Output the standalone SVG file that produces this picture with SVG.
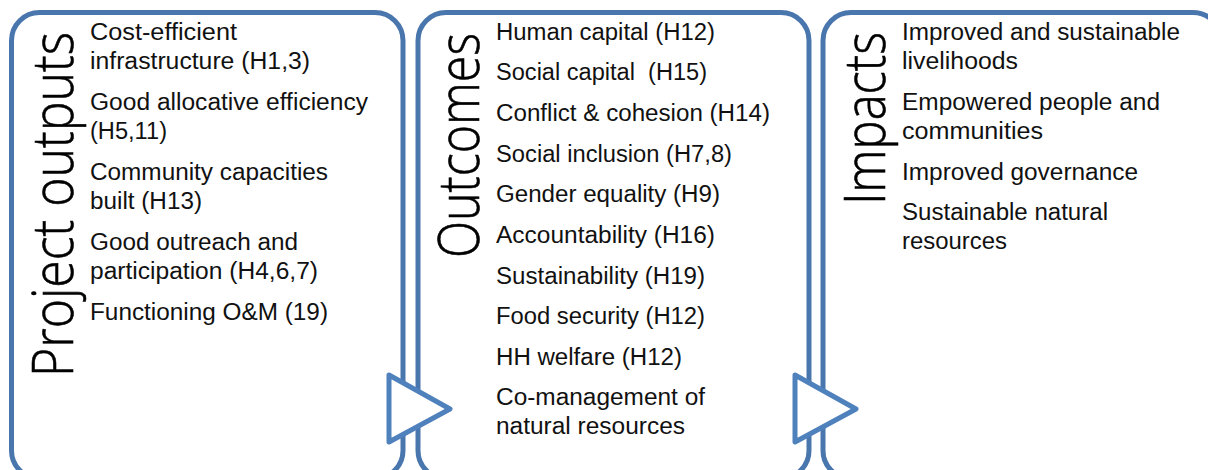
<svg xmlns="http://www.w3.org/2000/svg" width="1208" height="470" viewBox="0 0 1208 470">
<style>
.box{fill:#fff;stroke:#4A76AE;stroke-width:5}
.tri{fill:#fff;stroke:#4F81BD;stroke-width:5;stroke-linejoin:round}
.title{font-family:"Open Sans","Liberation Sans",sans-serif;font-weight:300;font-size:57px;fill:#000;stroke:#000;stroke-width:0.6}
.item{font-family:"Liberation Sans",Arial,sans-serif;font-size:23.5px;fill:#111;white-space:pre}
</style>
<rect width="1208" height="470" fill="#fff"/>
<g id="node-outputs">
<rect class="box" x="11.5" y="12.5" width="391.5" height="466" rx="28"/>
<text class="title" transform="translate(73,377) rotate(-90)" textLength="345" lengthAdjust="spacingAndGlyphs">Project outputs</text>
<text class="item" x="90" y="40" textLength="147" lengthAdjust="spacingAndGlyphs">Cost-efficient</text>
<text class="item" x="90" y="69" textLength="220" lengthAdjust="spacingAndGlyphs">infrastructure (H1,3)</text>
<text class="item" x="90" y="110" textLength="278" lengthAdjust="spacingAndGlyphs">Good allocative efficiency</text>
<text class="item" x="90" y="139" textLength="77" lengthAdjust="spacingAndGlyphs">(H5,11)</text>
<text class="item" x="90" y="180" textLength="238" lengthAdjust="spacingAndGlyphs">Community capacities</text>
<text class="item" x="90" y="209" textLength="112" lengthAdjust="spacingAndGlyphs">built (H13)</text>
<text class="item" x="90" y="250" textLength="208" lengthAdjust="spacingAndGlyphs">Good outreach and</text>
<text class="item" x="90" y="279" textLength="228" lengthAdjust="spacingAndGlyphs">participation (H4,6,7)</text>
<text class="item" x="90" y="320" textLength="238" lengthAdjust="spacingAndGlyphs">Functioning O&amp;M (19)</text>
</g>
<g id="node-outcomes">
<rect class="box" x="418" y="12.5" width="391" height="466" rx="28"/>
<text class="title" transform="translate(479,258) rotate(-90)" textLength="225" lengthAdjust="spacingAndGlyphs">Outcomes</text>
<text class="item" x="496" y="40" textLength="219" lengthAdjust="spacingAndGlyphs">Human capital (H12)</text>
<text class="item" x="496" y="80" textLength="211" lengthAdjust="spacingAndGlyphs">Social capital  (H15)</text>
<text class="item" x="496" y="121" textLength="274" lengthAdjust="spacingAndGlyphs">Conflict &amp; cohesion (H14)</text>
<text class="item" x="496" y="162" textLength="236" lengthAdjust="spacingAndGlyphs">Social inclusion (H7,8)</text>
<text class="item" x="496" y="202" textLength="224" lengthAdjust="spacingAndGlyphs">Gender equality (H9)</text>
<text class="item" x="496" y="243" textLength="219" lengthAdjust="spacingAndGlyphs">Accountability (H16)</text>
<text class="item" x="496" y="284" textLength="209" lengthAdjust="spacingAndGlyphs">Sustainability (H19)</text>
<text class="item" x="496" y="324" textLength="209" lengthAdjust="spacingAndGlyphs">Food security (H12)</text>
<text class="item" x="496" y="365" textLength="186" lengthAdjust="spacingAndGlyphs">HH welfare (H12)</text>
<text class="item" x="496" y="405" textLength="209" lengthAdjust="spacingAndGlyphs">Co-management of</text>
<text class="item" x="496" y="434" textLength="189" lengthAdjust="spacingAndGlyphs">natural resources</text>
</g>
<g id="node-impacts">
<rect class="box" x="823" y="12.5" width="398" height="466" rx="28"/>
<text class="title" transform="translate(885,205) rotate(-90)" textLength="173" lengthAdjust="spacingAndGlyphs">Impacts</text>
<text class="item" x="902" y="40" textLength="278" lengthAdjust="spacingAndGlyphs">Improved and sustainable</text>
<text class="item" x="902" y="69" textLength="116" lengthAdjust="spacingAndGlyphs">livelihoods</text>
<text class="item" x="902" y="110" textLength="258" lengthAdjust="spacingAndGlyphs">Empowered people and</text>
<text class="item" x="902" y="139" textLength="141" lengthAdjust="spacingAndGlyphs">communities</text>
<text class="item" x="902" y="180" textLength="236" lengthAdjust="spacingAndGlyphs">Improved governance</text>
<text class="item" x="902" y="220" textLength="206" lengthAdjust="spacingAndGlyphs">Sustainable natural</text>
<text class="item" x="902" y="249" textLength="105" lengthAdjust="spacingAndGlyphs">resources</text>
</g>
<g id="connectors">
<polygon class="tri" points="389,375 450,409 389,442"/>
<polygon class="tri" points="795,375 856,409 795,442"/>
</g>
</svg>
